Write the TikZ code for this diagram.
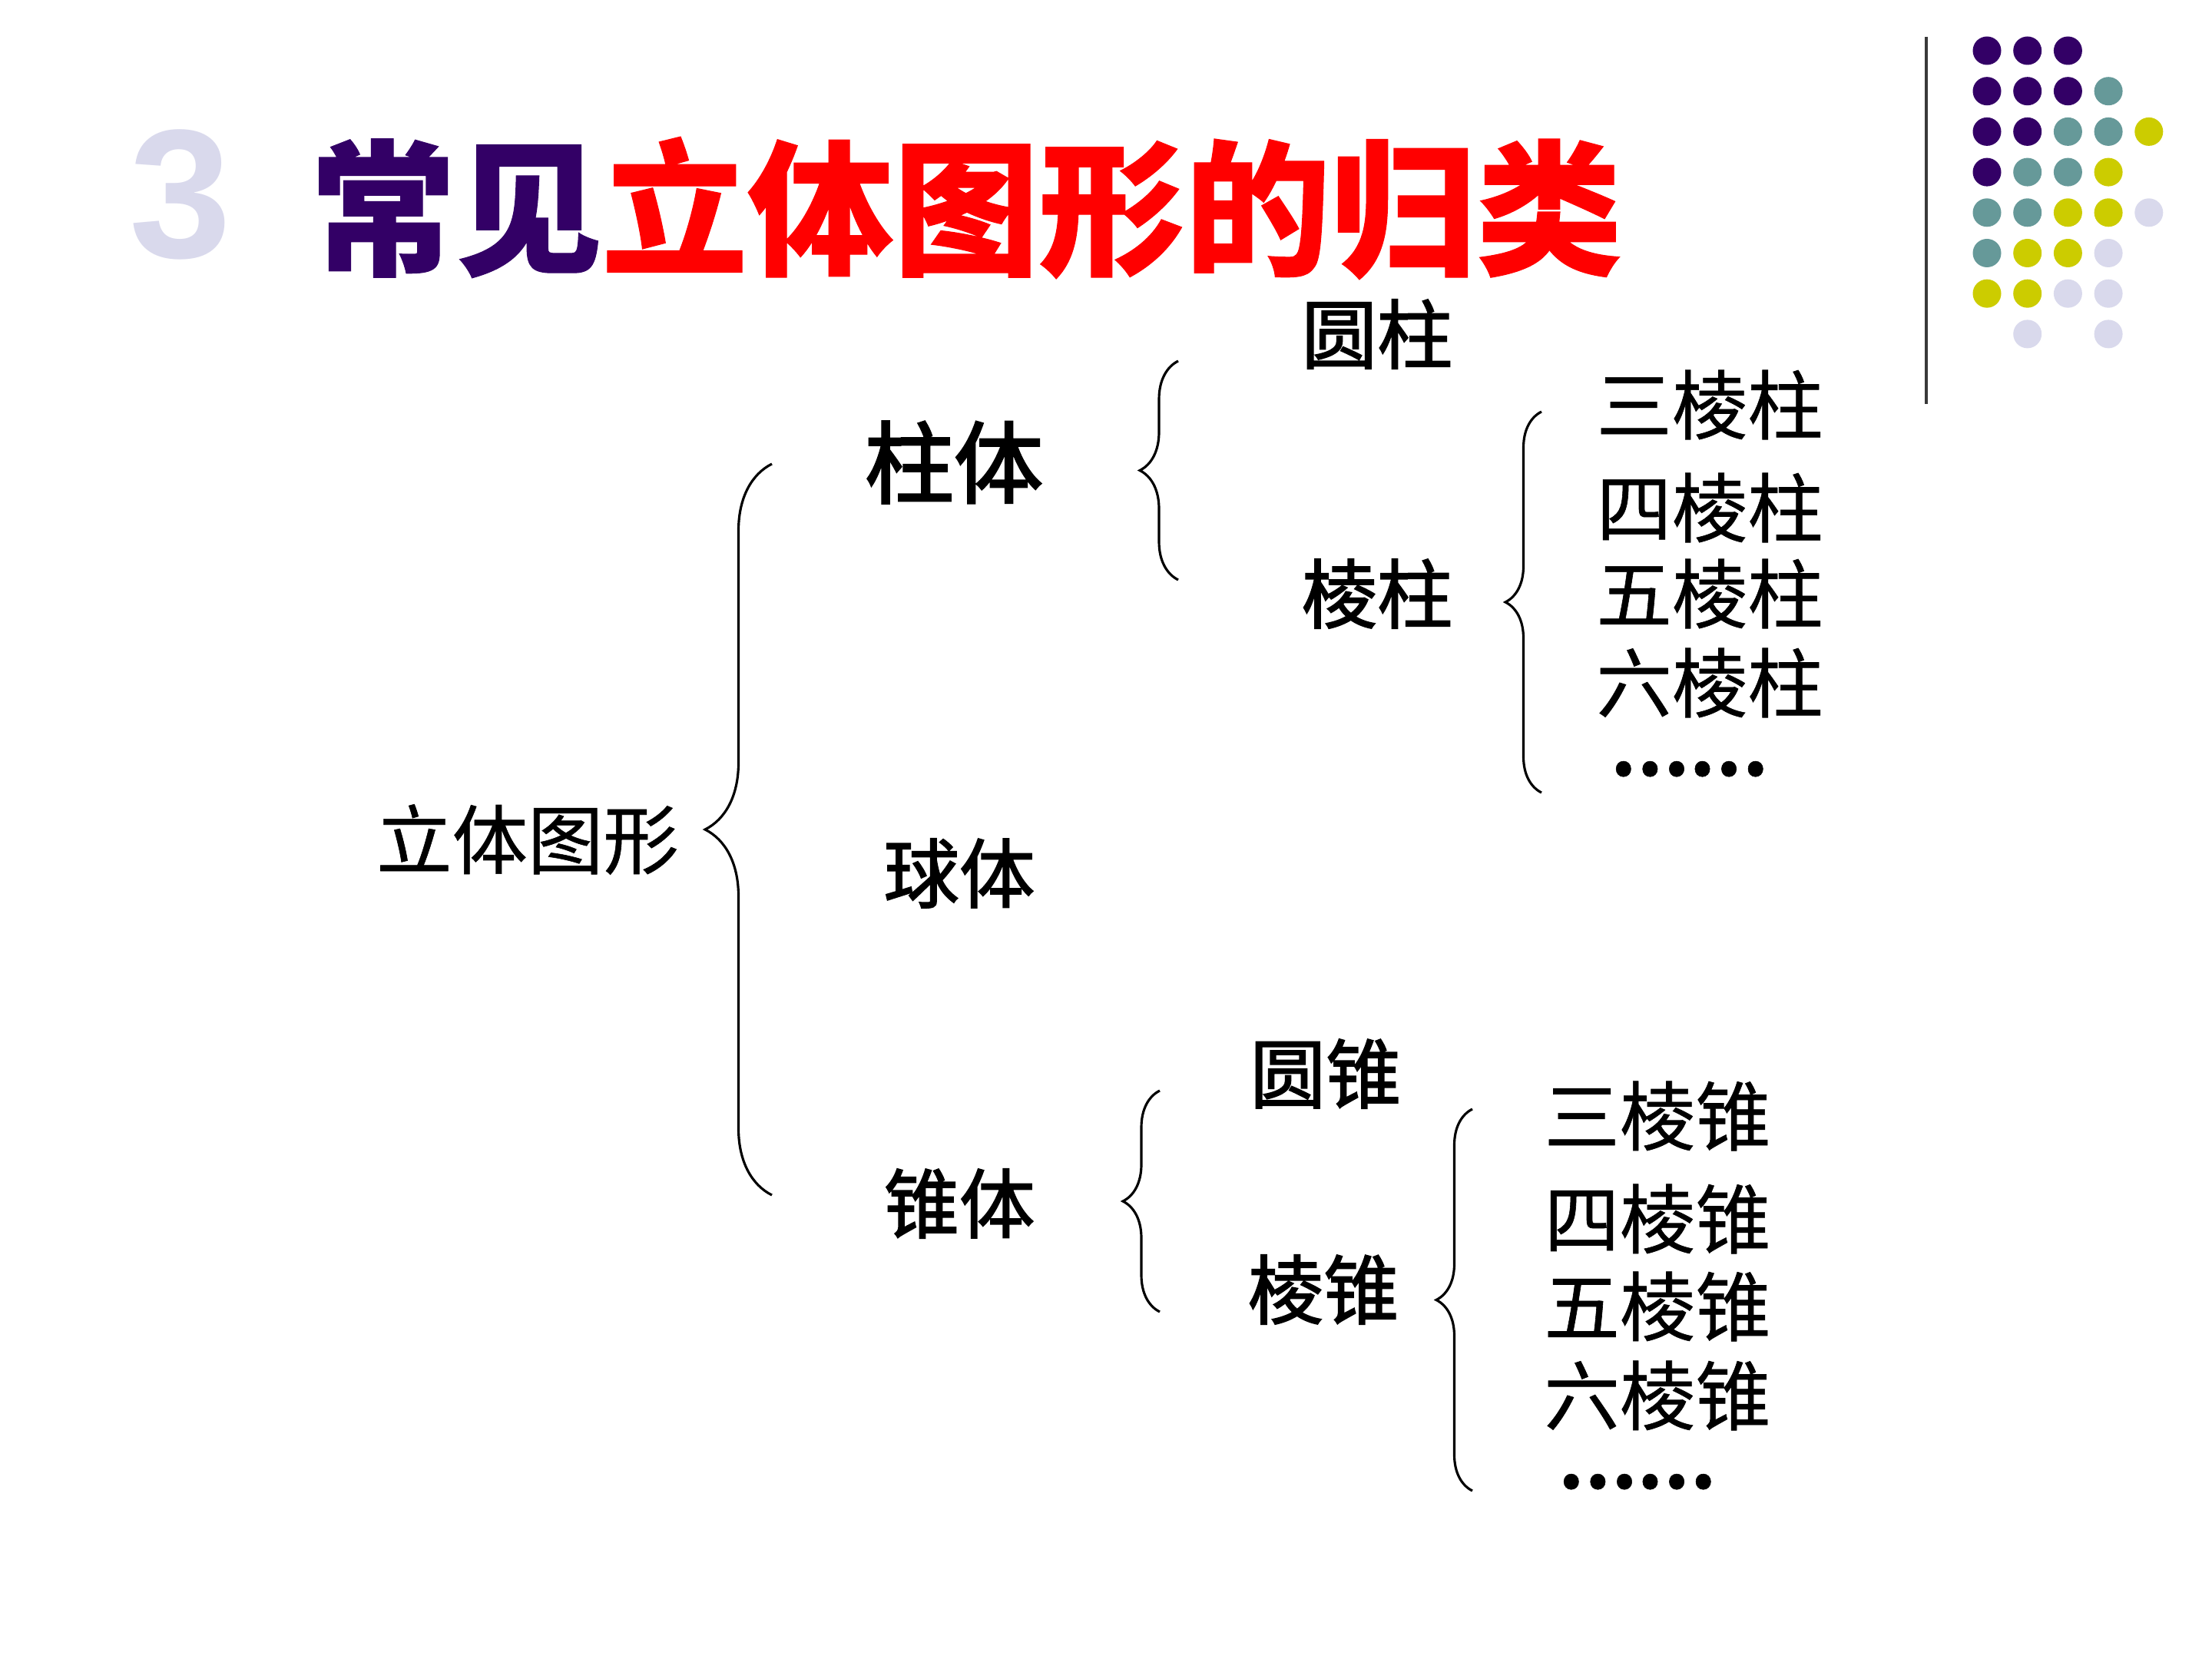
\documentclass[tikz,border=0pt]{standalone}
\usepackage{fontspec}
\setmainfont{Liberation Sans}
\newfontfamily\cjk{Noto Sans CJK SC}[FakeBold=0.6]
\newfontfamily\cjkhalb{Noto Sans CJK SC}[FakeBold=1.8]
\newfontfamily\cjkfett{Noto Sans CJK SC}[FakeBold=2.6]
\usetikzlibrary{decorations.pathreplacing}
\definecolor{lila}{HTML}{330066}
\definecolor{petrol}{HTML}{669999}
\definecolor{gelb}{HTML}{CCCC00}
\definecolor{flieder}{HTML}{D9D9EC}
\definecolor{rot}{HTML}{FF0000}
\definecolor{strich}{HTML}{3A3A3A}
\tikzset{
  klammer/.style={decorate,decoration={brace,amplitude=#1},black,line width=0.9pt},
  txt/.style={font=\cjk\fontsize{28}{34}\selectfont,inner sep=0pt},
  txtb/.style={font=\cjkhalb\fontsize{28}{34}\selectfont,inner sep=0pt},
  gross/.style={font=\cjkfett\fontsize{33}{40}\selectfont,inner sep=0pt},
  punkte/.style={font=\cjk\bfseries\fontsize{26}{30}\selectfont,inner sep=0pt,
    text height=0.5em,text depth=0pt,anchor=base},
  titel/.style={font=\cjk\bfseries\fontsize{54}{60}\selectfont,rot,inner sep=0pt},
  nummer/.style={font=\bfseries\fontsize{68}{70}\selectfont,flieder,inner sep=0pt},
  punkt/.style={radius=0.185},
}

\begin{document}
\begin{tikzpicture}
  \useasboundingbox (0,0) rectangle (28.8,-21.6);
  % Kopfzeile
  \node[nummer] (nr) at (2.35,-2.53) {3};
  \node[titel] (titel) at (12.58,-2.71) {\textcolor{lila}{常见}立体图形的归类};
  \draw[strich,line width=0.9pt] (25.08,-0.48) -- (25.08,-5.26);
  \foreach \c/\r/\f in {1/1/lila,2/1/lila,3/1/lila,
      1/2/lila,2/2/lila,3/2/lila,4/2/petrol,
      1/3/lila,2/3/lila,3/3/petrol,4/3/petrol,5/3/gelb,
      1/4/lila,2/4/petrol,3/4/petrol,4/4/gelb,
      1/5/petrol,2/5/petrol,3/5/gelb,4/5/gelb,5/5/flieder,
      1/6/petrol,2/6/gelb,3/6/gelb,4/6/flieder,
      1/7/gelb,2/7/gelb,3/7/flieder,4/7/flieder,
      2/8/flieder,4/8/flieder}
    \fill[\f,punkt] ({25.87+0.527*(\c-1)},{-0.66-0.527*(\r-1)}) circle;

  % Baum
  \node[txt] (fig) at (6.87,-10.93) {立体图形};
  \node[gross] (zyl) at (12.42,-6.02) {柱体};
  \node[txtb] (kug) at (12.49,-11.37) {球体};
  \node[txtb] (keg) at (12.49,-15.67) {锥体};

  \node[txtb] (rzyl) at (17.93,-4.35) {圆柱};
  \node[txtb] (pris) at (17.93,-7.73) {棱柱};
  \node[txt] (p3) at (22.26,-5.27) {三棱柱};
  \node[txt] (p4) at (22.26,-6.61) {四棱柱};
  \node[txt] (p5) at (22.26,-7.73) {五棱柱};
  \node[txt] (p6) at (22.26,-8.89) {六棱柱};
  \node[punkte] (pp) at (21.99,-10.10) {……};

  \node[txtb] (rkeg) at (17.26,-13.98) {圆锥};
  \node[txtb] (pyr) at (17.23,-16.79) {棱锥};
  \node[txt] (y3) at (21.58,-14.53) {三棱锥};
  \node[txt] (y4) at (21.58,-15.87) {四棱锥};
  \node[txt] (y5) at (21.58,-17.01) {五棱锥};
  \node[txt] (y6) at (21.58,-18.17) {六棱锥};
  \node[punkte] (yp) at (21.31,-19.38) {……};

  % Klammern
  \coordinate (k1o) at (10.05,-6.04);  \coordinate (k1u) at (10.05,-15.56);
  \coordinate (k2o) at (15.34,-4.70);  \coordinate (k2u) at (15.34,-7.55);
  \coordinate (k3o) at (20.07,-5.36);  \coordinate (k3u) at (20.07,-10.32);
  \coordinate (k4o) at (15.10,-14.20); \coordinate (k4u) at (15.10,-17.08);
  \coordinate (k5o) at (19.17,-14.44); \coordinate (k5u) at (19.17,-19.41);
  \draw[klammer=0.87cm] (k1u) -- (k1o);
  \draw[klammer=0.5cm] (k2u) -- (k2o);
  \draw[klammer=0.47cm] (k3u) -- (k3o);
  \draw[klammer=0.48cm] (k4u) -- (k4o);
  \draw[klammer=0.47cm] (k5u) -- (k5o);
\end{tikzpicture}
\end{document}
